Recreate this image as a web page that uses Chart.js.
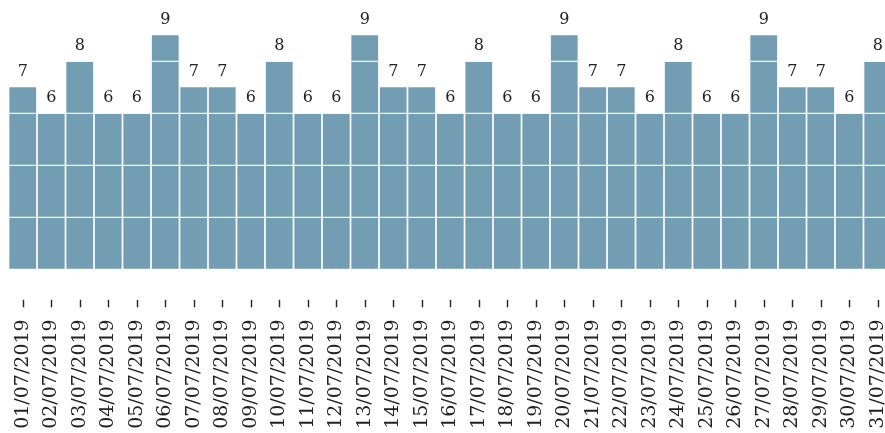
<!DOCTYPE html>
<html>
<head>
<meta charset="utf-8">
<title>Daily counts, July 2019</title>
<script src="https://cdn.jsdelivr.net/npm/chart.js@4/dist/chart.umd.min.js"></script>
<style>
  html, body { margin: 0; padding: 0; background: #fff; overflow: hidden; }
  #chart { display: block; }
</style>
</head>
<body>
<canvas id="chart" width="900" height="433"></canvas>
<script>
// Dates along the x axis
const days = [
    '01/07/2019', '02/07/2019', '03/07/2019', '04/07/2019', '05/07/2019',
    '06/07/2019', '07/07/2019', '08/07/2019', '09/07/2019', '10/07/2019',
    '11/07/2019', '12/07/2019', '13/07/2019', '14/07/2019', '15/07/2019',
    '16/07/2019', '17/07/2019', '18/07/2019', '19/07/2019', '20/07/2019',
    '21/07/2019', '22/07/2019', '23/07/2019', '24/07/2019', '25/07/2019',
    '26/07/2019', '27/07/2019', '28/07/2019', '29/07/2019', '30/07/2019',
    '31/07/2019'
];

// Count per day
const counts = [
    7, 6, 8, 6, 6, 9, 7, 7, 6, 8,
    6, 6, 9, 7, 7, 6, 8, 6, 6, 9,
    7, 7, 6, 8, 6, 6, 9, 7, 7, 6,
    8
];

const barColor = '#739db2';
const textColor = '#222222';
const serif = '"DejaVu Serif", "Liberation Serif", serif';

/**
 * White grid lines over the bars, then the value above each bar
 */
const barOverlay = {
    id: 'barOverlay',
    afterDatasetsDraw: function(chart) {
        const ctx = chart.ctx;
        const area = chart.chartArea;
        const yScale = chart.scales.y;
        ctx.save();
        ctx.strokeStyle = 'rgba(255, 255, 255, 0.9)';
        ctx.lineWidth = 1.2;
        yScale.ticks.forEach(function(tick, i) {
            const y = yScale.getPixelForTick(i);
            ctx.beginPath();
            ctx.moveTo(area.left, y);
            ctx.lineTo(area.right, y);
            ctx.stroke();
        });

        const meta = chart.getDatasetMeta(0);
        ctx.font = '16px ' + serif;
        ctx.fillStyle = textColor;
        ctx.textAlign = 'center';
        ctx.textBaseline = 'bottom';
        meta.data.forEach(function(bar, i) {
            ctx.fillText(String(counts[i]), bar.x, bar.y - 7);
        });
        ctx.restore();
    }
};

/**
 * Short tick marks sitting between the bars and the date labels
 */
const tickMarks = {
    id: 'tickMarks',
    afterDraw: function(chart) {
        const ctx = chart.ctx;
        const xScale = chart.scales.x;
        const top = xScale.top + 30.5;
        ctx.save();
        ctx.strokeStyle = textColor;
        ctx.lineWidth = 1.4;
        xScale.ticks.forEach(function(tick, i) {
            const x = Math.round(xScale.getPixelForTick(i)) + 0.5;
            ctx.beginPath();
            ctx.moveTo(x, top);
            ctx.lineTo(x, top + 7.5);
            ctx.stroke();
        });
        ctx.restore();
    }
};

new Chart(document.getElementById('chart'), {
    type: 'bar',
    data: {
        labels: days,
        datasets: [{
            data: counts,
            backgroundColor: barColor,
            borderWidth: 0,
            barPercentage: 0.94,
            categoryPercentage: 1.0
        }]
    },
    options: {
        responsive: false,
        animation: false,
        layout: {
            padding: { left: 8.5, right: 8, top: 9.3, bottom: 0 }
        },
        plugins: {
            legend: { display: false },
            tooltip: { enabled: false }
        },
        scales: {
            x: {
                grid: { display: false, drawTicks: false },
                border: { display: false },
                ticks: {
                    color: textColor,
                    font: { family: serif, size: 19 },
                    minRotation: 90,
                    maxRotation: 90,
                    autoSkip: false,
                    padding: 50
                },
                afterFit: function(scale) {
                    scale.height = 163.7;
                    // labels are allowed to run off the edges
                    scale.paddingLeft = 0;
                    scale.paddingRight = 0;
                }
            },
            y: {
                display: false,
                min: 0,
                max: 10,
                ticks: { stepSize: 2 }
            }
        }
    },
    plugins: [barOverlay, tickMarks]
});
</script>
</body>
</html>
